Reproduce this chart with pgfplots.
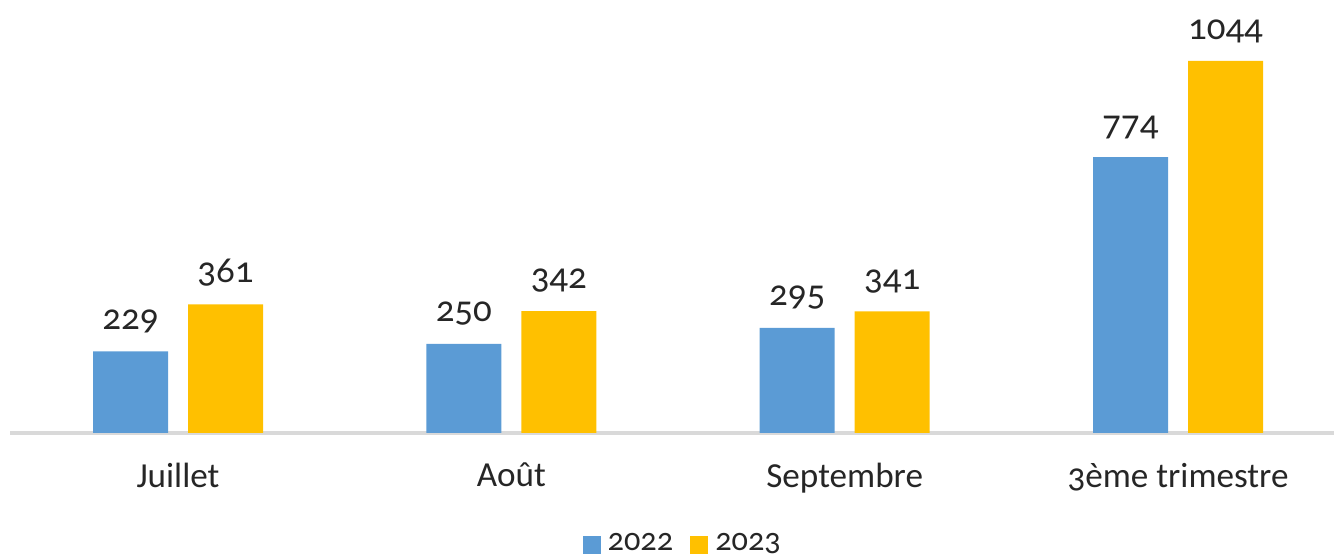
\documentclass[border=0pt]{standalone}
\usepackage{fontspec}
\setmainfont[Numbers=OldStyle]{Carlito}
\usepackage{pgfplots}
\pgfplotsset{compat=1.18}
\definecolor{barblue}{HTML}{5B9BD5}
\definecolor{baryellow}{HTML}{FFC000}
\definecolor{axisgray}{HTML}{D9D9D9}
\definecolor{txt}{HTML}{262626}

\begin{document}
\begin{tikzpicture}
  \path[use as bounding box] (0,-1.25) rectangle (13.34,4.33);
  \begin{axis}[at={(0.10cm,0cm)},anchor=south west,
    scale only axis,width=13.24cm,height=4.33cm,
    ybar=0.2cm,bar width=0.75cm,
    xmin=-0.504,xmax=3.468,ymin=0,ymax=1215,
    axis x line=bottom,axis y line=none,
    x axis line style={-,draw=axisgray,line width=1pt},
    xtick={0,1,2,3},xticklabels={Juillet,Août,Septembre,3ème trimestre},
    xtick style={draw=none},ytick=\empty,
    xticklabel style={font=\fontsize{10}{12}\selectfont,text=txt,yshift=-0.1cm},
    nodes near coords,
    /pgf/number format/assume math mode=true,
    /pgf/number format/1000 sep={},
    nodes near coords style={font=\fontsize{10.5}{12}\selectfont,text=txt,anchor=south,yshift=0.06cm},
    every axis plot/.append style={draw=none},
    legend style={at={(0.51,-0.258)},anchor=center,draw=none,fill=none,
      legend columns=2,font=\fontsize{9.2}{11}\selectfont,text=txt,
      /tikz/every even column/.append style={column sep=0.1cm}},
    legend image code/.code={\fill[#1] (0.02cm,-0.09cm) rectangle (0.2cm,0.09cm);},
    clip=false]
    \addplot[fill=barblue] coordinates {(0,229)(1,250)(2,295)(3,774)};
    \addplot[fill=baryellow] coordinates {(0,361)(1,342)(2,341)(3,1044)};
    \legend{2022,2023}
  \end{axis}
\end{tikzpicture}
\end{document}
